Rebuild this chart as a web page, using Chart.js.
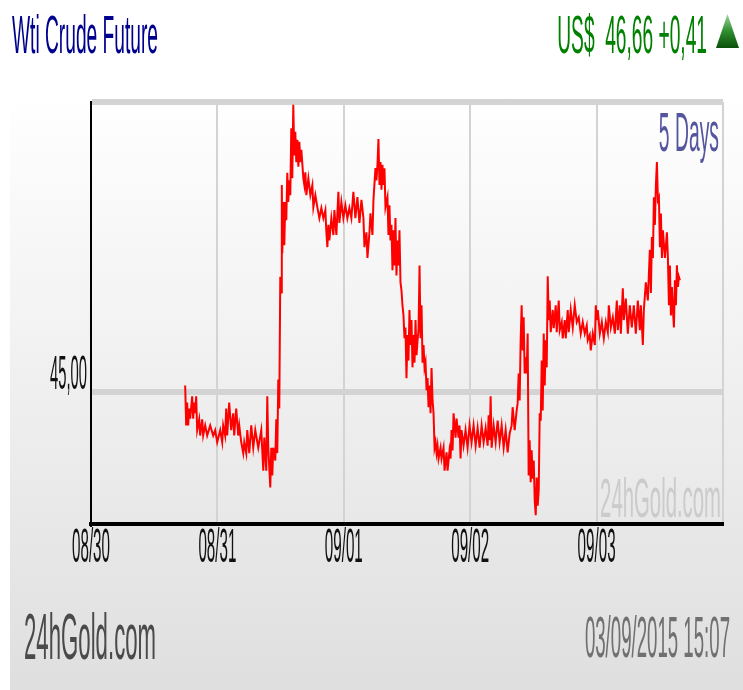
<!DOCTYPE html>
<html>
<head>
<meta charset="utf-8">
<script src="https://cdn.jsdelivr.net/npm/chart.js@4/dist/chart.umd.min.js"></script>
<style>
  html,body{margin:0;padding:0;background:#fff;width:743px;height:690px;overflow:hidden;}
  #bg{position:absolute;left:10px;top:0;width:733px;height:690px;
      background:linear-gradient(to bottom,#ffffff 0px,#ffffff 95px,#dfdfdf 690px);}
  #c{position:absolute;left:0;top:0;}
</style>
</head>
<body>
<div id="bg"></div>
<canvas id="c" width="743" height="690"></canvas>
<script>
// ---- data (hours since 08/30 00:00, price in US$) ----
const hours = [
17.88,18.07,18.26,18.45,18.64,18.83,19.21,19.40,19.59,19.78,19.97,20.16,20.54,20.73,21.11,21.30,21.68,22.06,22.63,23.20,
23.58,23.96,24.53,24.91,25.10,25.48,25.67,25.86,26.24,26.62,27.00,27.19,27.57,27.95,28.15,28.53,28.91,29.10,29.48,29.67,
30.05,30.43,30.81,31.19,31.76,32.33,32.71,32.90,33.28,33.47,33.66,34.04,34.23,34.42,34.61,34.99,35.18,35.37,35.56,35.75,
35.94,36.13,36.23,36.32,36.51,36.70,36.89,37.08,37.27,37.46,37.65,37.84,38.03,38.22,38.41,38.60,38.79,38.98,39.18,39.37,
39.56,39.75,39.94,40.32,40.51,40.70,40.89,41.27,41.65,42.03,42.22,42.60,42.98,43.36,43.74,44.12,44.50,44.69,44.88,45.07,
45.26,45.64,46.02,46.21,46.59,46.97,47.16,47.54,47.92,48.30,48.68,49.06,49.44,49.82,50.20,50.58,50.97,51.35,51.73,51.92,
52.30,52.49,52.87,53.06,53.44,53.63,54.01,54.20,54.39,54.58,54.77,54.96,55.15,55.34,55.53,55.72,55.91,56.29,56.48,56.67,
56.86,57.05,57.24,57.43,57.62,57.81,58.00,58.19,58.38,58.57,58.76,58.95,59.14,59.33,59.52,59.71,59.90,60.09,60.28,60.47,
60.66,60.85,61.04,61.23,61.43,61.62,61.81,62.00,62.19,62.38,62.57,62.76,62.95,63.14,63.33,63.52,63.71,63.90,64.09,64.28,
64.47,64.66,64.85,65.04,65.23,65.42,65.61,65.80,65.99,66.37,66.56,66.94,67.13,67.51,67.70,68.08,68.27,68.46,68.65,68.84,
69.22,69.41,69.79,69.98,70.17,70.36,70.74,71.12,71.50,71.88,72.26,72.64,73.03,73.41,73.79,74.17,74.55,74.93,75.31,75.50,
75.69,75.88,76.07,76.45,76.83,77.21,77.59,77.97,78.35,78.73,79.11,79.49,79.87,80.06,80.44,80.82,81.01,81.20,81.39,81.58,
81.77,81.96,82.15,82.34,82.53,82.72,82.91,83.10,83.29,83.48,83.67,83.86,84.06,84.25,84.44,84.63,84.82,85.01,85.20,85.39,
85.58,85.77,85.96,86.15,86.34,86.53,86.72,86.91,87.10,87.29,87.67,87.86,88.24,88.43,88.81,89.00,89.38,89.57,89.95,90.14,
90.52,90.71,91.09,91.47,91.85,92.23,92.61,92.99,93.37,93.75,94.13,94.32,94.70,94.89,95.28,95.66,95.85,96.04,96.23,96.61,
96.99,97.37,97.75,98.13,98.32,98.70,99.08,99.46,99.84,100.03,100.41,100.60,100.98,101.17,101.55,101.93,102.31,102.69,103.07,103.45,
103.83,104.21,104.40,104.78,104.97,105.35,105.73,106.11,106.31,106.50,106.69,106.88,107.07,107.26,107.45,107.64,107.83,108.02,108.21,108.40,
108.59,108.97,109.35,109.54,109.73,109.92,110.11,110.30,110.49,110.68,110.87,111.06,111.25,111.44,111.63,111.82
];
const prices = [
45.10,44.51,44.85,44.51,44.76,44.61,44.94,44.61,44.85,44.69,44.94,44.44,44.60,44.36,44.60,44.36,44.51,44.36,44.51,44.36,
44.44,44.26,44.44,44.26,44.51,44.36,44.76,44.36,44.85,44.44,44.69,44.36,44.76,44.36,44.51,44.26,44.10,44.26,44.10,44.44,
44.10,44.51,44.18,44.44,44.18,44.44,43.84,44.33,43.84,44.94,44.18,43.59,44.18,43.77,44.18,43.99,44.60,44.10,45.19,44.76,
46.71,46.48,48.07,47.06,47.82,47.18,47.82,47.55,48.25,47.82,48.14,47.92,48.91,48.17,49.26,48.51,48.86,48.41,48.74,48.34,
48.71,48.41,48.59,48.17,48.07,48.26,47.92,48.17,47.92,48.07,47.74,47.92,47.74,47.58,47.73,47.58,47.70,47.37,47.15,47.48,
47.25,47.58,47.33,47.70,47.33,47.97,47.51,47.82,47.58,47.77,47.58,47.73,47.58,47.97,47.58,47.89,47.51,47.85,47.58,47.15,
47.37,46.99,47.37,47.65,47.33,47.85,48.32,48.14,48.37,48.75,48.07,48.41,48.00,48.37,48.07,48.32,47.74,47.89,47.33,47.77,
47.25,47.48,46.81,47.40,46.88,47.58,46.73,47.25,46.88,47.40,46.63,46.51,46.29,46.14,45.80,45.96,45.21,45.85,45.47,46.22,
45.70,46.07,45.37,45.85,45.44,46.07,45.55,45.77,45.92,46.88,45.80,46.29,45.44,45.70,45.36,45.44,45.03,45.21,44.78,45.10,
44.69,45.36,44.88,44.69,44.18,44.26,44.10,44.21,44.02,44.18,44.02,44.18,43.84,44.11,43.84,44.14,44.02,44.44,44.14,44.69,
44.33,44.61,44.33,44.51,44.02,44.44,44.21,44.44,44.18,44.51,44.26,44.51,44.21,44.47,44.18,44.51,44.26,44.47,44.21,44.66,
44.29,44.94,44.18,44.51,44.26,44.58,44.26,44.51,44.18,44.44,44.11,44.39,44.51,44.78,44.44,44.73,44.84,45.28,44.88,45.77,
46.29,45.62,46.11,45.28,45.52,45.28,45.87,43.77,44.29,43.67,44.14,43.72,43.99,43.40,43.18,43.74,43.32,43.55,44.69,44.58,
45.47,44.73,45.87,45.10,45.77,45.37,46.72,46.07,46.36,45.89,46.22,45.95,46.29,45.89,46.36,45.92,46.04,45.80,46.07,45.80,
46.22,45.89,46.22,45.96,46.29,46.04,46.11,45.87,46.04,45.87,45.99,45.77,45.85,45.62,45.87,45.70,46.29,46.07,46.22,45.87,
46.04,45.80,46.04,45.89,46.29,45.96,46.11,45.87,46.36,45.92,46.29,45.87,46.54,46.07,46.39,45.87,46.29,45.96,46.29,45.87,
46.36,45.92,46.29,45.70,46.22,46.63,46.36,47.11,46.47,47.30,46.99,47.89,47.48,48.07,48.41,47.85,47.89,47.15,47.65,46.99,
47.40,46.99,47.37,46.99,46.29,46.88,46.14,46.56,46.22,45.96,46.66,46.29,46.88,46.56,46.71,46.66
];
const dayLabels = ['08/30','08/31','09/01','09/02','09/03'];
const yTickValues = [45];
const yMin = 43.05, yMax = 49.3;
const xMin = 0, xMax = 120, xStep = 24;
const instrument = 'Wti Crude Future';
const lastPrice = 46.66, change = 0.41;
const stamp = '03/09/2015 15:07';
const periodLabel = '5 Days';
const siteName = '24hGold.com';

const fmt = v => v.toFixed(2).replace('.', ',');

function txt(ctx, s, x, y, size, sx, color, align) {
  ctx.save();
  ctx.font = size + 'px "Liberation Sans", Arial, sans-serif';
  ctx.fillStyle = color;
  ctx.textBaseline = 'alphabetic';
  ctx.textAlign = align || 'left';
  ctx.translate(x, y);
  ctx.scale(sx, 1);
  ctx.fillText(s, 0, 0);
  ctx.restore();
}

const decor = {
  id: 'decor',
  beforeDatasetsDraw(chart) {
    const ctx = chart.ctx, a = chart.chartArea;
    txt(ctx, siteName, a.right - 2, a.bottom - 7, 56, 0.363, '#cbcbcb', 'right');
  },
  afterDraw(chart) {
    const ctx = chart.ctx, a = chart.chartArea;
    const xs = chart.scales.x, ys = chart.scales.y;
    // x tick labels
    xs.ticks.forEach((t, i) => {
      if (i < dayLabels.length) txt(ctx, dayLabels[i], xs.getPixelForValue(t.value), 562, 49, 0.31, '#111', 'center');
    });
    // y tick labels
    yTickValues.forEach(v => {
      txt(ctx, fmt(v), a.left - 4, ys.getPixelForValue(v) - 3, 48, 0.308, '#111', 'right');
    });
    // headers
    txt(ctx, instrument, 12, 53, 54, 0.355, '#00008f', 'left');
    txt(ctx, 'US$  ' + fmt(lastPrice) + ' +' + fmt(change), 707, 53, 54, 0.355, '#008000', 'right');
    // up triangle
    ctx.save();
    const g = ctx.createLinearGradient(0, 14, 0, 48);
    g.addColorStop(0, '#9fd49f'); g.addColorStop(0.5, '#2f8f2f'); g.addColorStop(1, '#0a4f0a');
    ctx.fillStyle = g;
    ctx.beginPath(); ctx.moveTo(727.5, 14); ctx.lineTo(739, 48); ctx.lineTo(716, 48); ctx.closePath(); ctx.fill();
    ctx.restore();
    txt(ctx, periodLabel, 719, 151, 56, 0.345, '#55559f', 'right');
    txt(ctx, siteName, 24, 659, 64, 0.347, '#4a4a4a', 'left');
    txt(ctx, stamp, 730, 657, 57, 0.327, '#707070', 'right');
  }
};

new Chart(document.getElementById('c'), {
  type: 'line',
  data: {
    datasets: [{
      data: hours.map((h, i) => ({ x: h, y: prices[i] })),
      borderColor: '#ff0000',
      borderWidth: 2,
      pointRadius: 0,
      tension: 0,
      fill: false
    }]
  },
  options: {
    responsive: false,
    animation: false,
    devicePixelRatio: 1,
    layout: { padding: { left: 0, top: 102, right: 20, bottom: 0 } },
    plugins: { legend: { display: false }, tooltip: { enabled: false } },
    scales: {
      x: {
        type: 'linear', min: xMin, max: xMax,
        ticks: { stepSize: xStep, display: false },
        grid: { color: '#d3d3d3', lineWidth: 2, drawTicks: false },
        border: { color: '#000', width: 4 },
        afterFit(s) { s.height = 166; }
      },
      y: {
        min: yMin, max: yMax,
        ticks: { display: false },
        afterBuildTicks(s) { s.ticks = yTickValues.concat([yMax]).map(v => ({ value: v })); },
        grid: { color: '#d3d3d3', lineWidth: 6, drawTicks: false },
        border: { color: '#000', width: 2 },
        afterFit(s) { s.width = 91; }
      }
    }
  },
  plugins: [decor]
});
</script>
</body>
</html>
